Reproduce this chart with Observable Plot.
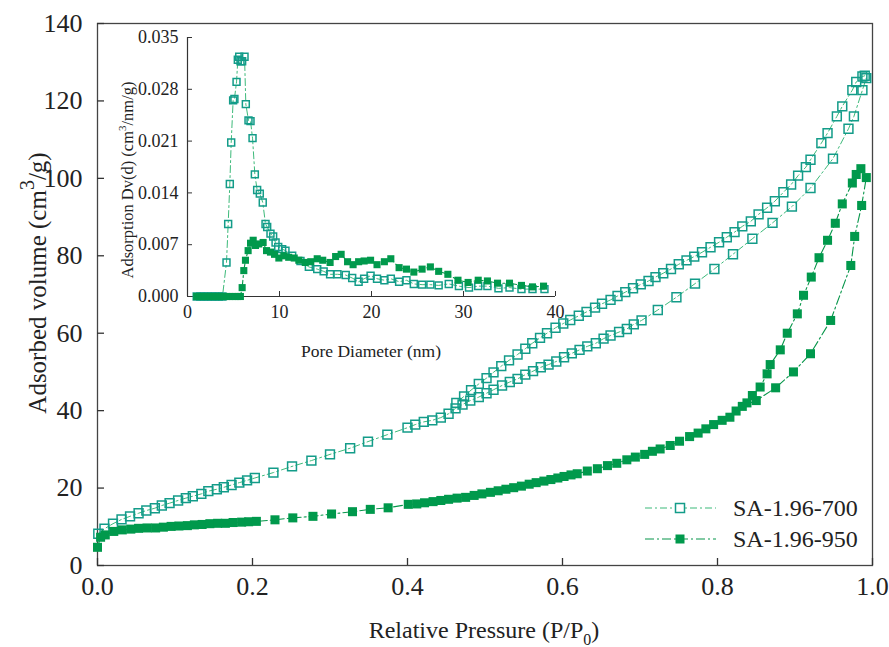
<!DOCTYPE html>
<html><head><meta charset="utf-8">
<script src="https://cdn.jsdelivr.net/npm/d3@7"></script>
<script src="https://cdn.jsdelivr.net/npm/@observablehq/plot@0.6"></script>
<style>
body{margin:0;background:#fff;}
#wrap{position:relative;width:889px;height:647px;overflow:hidden;}
#main{position:absolute;left:0;top:0;}
#inset{position:absolute;left:100px;top:20px;}
</style></head><body><div id="wrap"><div id="main"></div><div id="inset"></div></div>
<script>
// ---------- main isotherm data ----------
const xTicks = [0, 0.2, 0.4, 0.6, 0.8, 1.0];
const yTicks = [0, 20, 40, 60, 80, 100, 120, 140];

const ads700P = [0.001,0.009,0.020,0.031,0.042,0.053,0.063,0.074,0.083,0.093,0.104,0.114,0.123,0.134,0.143,0.154,0.163,0.173,0.183,0.193,0.203,0.227,0.251,0.276,0.300,0.326,0.349,0.374,0.400,0.410,0.421,0.432,0.443,0.453,0.462,0.471,0.481,0.492,0.502,0.511,0.522,0.532,0.542,0.552,0.562,0.572,0.582,0.592,0.602,0.612,0.622,0.632,0.643,0.653,0.662,0.673,0.683,0.692,0.702,0.723,0.747,0.771,0.796,0.820,0.845,0.871,0.896,0.920,0.949,0.969,0.976,0.987,0.992];
const ads700V = [8.2,9.5,10.8,11.9,12.7,13.5,14.2,14.8,15.5,16.1,16.8,17.4,17.9,18.5,19.2,19.7,20.2,20.8,21.4,22.0,22.6,24.0,25.6,27.1,28.7,30.3,32.0,33.8,35.6,36.4,37.1,37.5,38.2,39.2,40.6,41.6,42.6,43.5,44.5,45.4,46.5,47.4,48.2,49.3,50.2,51.2,51.9,52.7,53.8,54.8,55.7,56.6,57.4,58.6,59.4,60.3,61.1,62.3,63.3,66.0,69.3,72.8,76.6,80.4,84.4,88.5,92.7,97.5,105.1,112.8,116.0,122.8,125.9];

const des700P = [0.990,0.987,0.979,0.974,0.961,0.954,0.942,0.934,0.920,0.914,0.904,0.895,0.885,0.874,0.864,0.853,0.843,0.832,0.822,0.812,0.802,0.791,0.780,0.770,0.760,0.750,0.740,0.730,0.720,0.711,0.701,0.691,0.681,0.671,0.662,0.651,0.642,0.631,0.621,0.610,0.601,0.591,0.580,0.571,0.561,0.552,0.542,0.531,0.521,0.511,0.502,0.492,0.482,0.473,0.463];
const des700V = [126.5,126.3,124.9,122.8,118.6,116.0,111.7,109.1,104.8,102.9,100.7,98.4,96.4,94.1,92.4,90.7,88.9,87.6,86.1,84.8,83.5,82.2,80.9,79.8,78.8,77.8,76.6,75.5,74.5,73.5,72.6,71.6,70.6,69.6,68.6,67.6,66.6,65.5,64.5,63.4,62.5,61.4,60.0,58.8,57.4,56.0,54.5,53.0,51.5,49.9,48.4,46.9,45.3,43.7,42.0];

const ads950P = [0.000,0.004,0.010,0.021,0.032,0.043,0.053,0.064,0.075,0.085,0.095,0.105,0.116,0.125,0.135,0.145,0.155,0.165,0.175,0.186,0.195,0.205,0.229,0.252,0.278,0.302,0.329,0.352,0.375,0.401,0.412,0.422,0.433,0.443,0.453,0.464,0.475,0.486,0.496,0.507,0.517,0.527,0.537,0.547,0.557,0.566,0.576,0.585,0.594,0.602,0.611,0.619,0.632,0.645,0.658,0.670,0.683,0.694,0.706,0.716,0.726,0.739,0.751,0.764,0.775,0.785,0.795,0.806,0.816,0.824,0.832,0.850,0.875,0.898,0.920,0.946,0.972,0.977,0.986,0.992];
const ads950V = [4.7,7.3,7.9,8.8,9.2,9.4,9.6,9.7,9.7,9.9,10.1,10.2,10.3,10.5,10.6,10.8,10.9,10.9,11.1,11.2,11.3,11.4,11.8,12.3,12.7,13.3,13.9,14.5,14.9,15.8,15.9,16.2,16.5,16.8,17.1,17.4,17.6,18.1,18.5,18.9,19.3,19.7,20.1,20.5,21.0,21.4,21.8,22.2,22.6,23.0,23.4,23.7,24.4,25.0,25.8,26.4,27.3,28.0,28.7,29.5,30.1,31.0,32.1,33.3,34.2,35.3,36.4,37.5,38.3,39.9,41.1,42.6,45.9,50.0,54.7,63.3,77.5,85.0,93.0,100.2];

const des950P = [0.985,0.979,0.974,0.961,0.952,0.942,0.931,0.921,0.911,0.903,0.890,0.881,0.868,0.864,0.855,0.845,0.838];
const des950V = [102.5,101.0,98.8,93.4,88.4,84.0,79.5,74.5,69.8,65.0,60.0,55.7,51.9,49.5,46.1,43.9,42.0];

// ---------- inset pore size distribution data ----------
const insetXTicks = [0, 10, 20, 30, 40];
const insetYTicks = [0, 0.007, 0.014, 0.021, 0.028, 0.035];

const psd700D = [1.0,1.4,1.8,2.2,2.6,3.0,3.4,3.8,4.24,4.42,4.60,4.75,4.96,5.10,5.33,5.47,5.62,5.76,5.94,6.20,6.34,6.63,6.85,7.07,7.32,7.57,7.86,8.18,8.48,8.66,9.02,9.31,9.57,9.86,10.29,10.65,11.38,12.28,13.19,14.1,14.8,15.5,16.3,17.2,17.9,18.6,19.2,19.9,20.6,21.4,22.1,23.0,23.8,24.6,25.5,26.4,27.3,28.4,29.5,30.6,31.6,32.6,33.8,35.0,36.3,37.5,38.8];
const psd700V = [0,0,0,0,0,0,0,0,0.0046,0.0098,0.0152,0.0208,0.0265,0.0267,0.0290,0.0320,0.0324,0.0318,0.0318,0.0324,0.0260,0.0238,0.0237,0.0214,0.0165,0.0144,0.0139,0.0127,0.0098,0.0094,0.0085,0.0081,0.0073,0.0067,0.0064,0.0062,0.0055,0.0048,0.0040,0.0037,0.0034,0.0030,0.0030,0.0029,0.0025,0.0020,0.0024,0.0028,0.0024,0.0022,0.0024,0.0020,0.0022,0.0017,0.0016,0.0016,0.0015,0.0017,0.0014,0.0012,0.0014,0.0014,0.0011,0.0012,0.0010,0.0010,0.0010];

const psd950D = [1.0,1.3,1.6,1.9,2.2,2.5,2.8,3.1,3.4,3.7,4.0,4.3,4.6,4.9,5.2,5.5,5.75,5.94,6.12,6.30,6.59,6.85,7.14,7.39,7.75,8.22,8.59,9.02,9.46,9.93,10.47,11.0,11.6,12.1,12.8,13.4,14.1,14.7,15.5,16.1,16.7,17.4,18.0,18.6,19.2,19.9,20.6,21.4,22.1,23.0,23.8,24.6,25.5,26.4,27.3,28.3,29.4,30.5,31.6,32.6,33.7,35.0,36.3,37.5,38.7];
const psd950V = [0,0,0,0,0,0,0,0,0,0,0,0,0,0,0,0,0,0.0012,0.0035,0.0049,0.0062,0.0072,0.0076,0.0069,0.0071,0.0073,0.0062,0.0060,0.0057,0.0052,0.0055,0.0053,0.0052,0.0049,0.0046,0.0047,0.0051,0.0049,0.0046,0.0054,0.0057,0.0047,0.0043,0.0047,0.0048,0.0049,0.0043,0.0047,0.0051,0.0039,0.0037,0.0033,0.0037,0.0040,0.0034,0.0030,0.0022,0.0019,0.0022,0.0021,0.0018,0.0018,0.0015,0.0013,0.0014];

const seriesNames = ["SA-1.96-700", "SA-1.96-950"];

// ---------- styles ----------
const FONT = "Liberation Serif, DejaVu Serif, serif";
const C700 = "#139c89", L700 = "#3dba7a";
const C950 = "#00994c", L950 = "#07964a";
const DASH700 = "7,3,2,3", DASH950 = "9,3,2,3";
const rows = (xs, ys) => xs.map((x, i) => ({x, y: ys[i]}));

const openSq = (data, r) => Plot.dot(data, {x: "x", y: "y", symbol: "square", r, stroke: C700, fill: "none", strokeWidth: 1.5});
const fillSq = (data, r) => Plot.dot(data, {x: "x", y: "y", symbol: "square", r, fill: C950, stroke: "none"});
const line700 = (data) => Plot.line(data, {x: "x", y: "y", stroke: L700, strokeWidth: 1, strokeDasharray: DASH700});
const line950 = (data) => Plot.line(data, {x: "x", y: "y", stroke: L950, strokeWidth: 1.1, strokeDasharray: DASH950});

const a700 = rows(ads700P, ads700V), d700 = rows(des700P, des700V);
const a950 = rows(ads950P, ads950V), d950 = rows(des950P, des950V);

const main = Plot.plot({
  width: 889, height: 647,
  marginLeft: 97, marginRight: 17, marginTop: 23, marginBottom: 82,
  style: {fontFamily: FONT, fontSize: "26px", color: "#222", background: "transparent", overflow: "visible"},
  x: {domain: [0, 1]},
  y: {domain: [0, 140]},
  marks: [
    Plot.frame({stroke: "#444", strokeWidth: 1.3}),
    Plot.axisX(xTicks, {tickFormat: d => d.toFixed(1), tickSize: -7, tickPadding: 18, label: null, stroke: "#333", strokeWidth: 1.3}),
    Plot.axisY(yTicks, {tickFormat: d => String(d), tickSize: -7, tickPadding: 22, label: null, stroke: "#333", strokeWidth: 1.3}),
    line700(a700), line700(d700),
    openSq(a700, 5.0), openSq(d700, 5.0),
    line950(a950), line950(d950),
    fillSq(a950, 5.1), fillSq(d950, 5.1)
  ]
});
document.getElementById("main").appendChild(main);

const inset = Plot.plot({
  width: 470, height: 350,
  marginLeft: 87, marginRight: 15, marginTop: 17, marginBottom: 74,
  style: {fontFamily: FONT, fontSize: "18px", color: "#222", background: "transparent", overflow: "visible"},
  x: {domain: [0, 40]},
  y: {domain: [0, 0.035]},
  marks: [
    Plot.ruleX([0], {stroke: "#333", strokeWidth: 1.2}),
    Plot.ruleY([0], {stroke: "#333", strokeWidth: 1.2}),
    Plot.axisX(insetXTicks, {tickSize: -5, tickPadding: 14, label: null, stroke: "#333"}),
    Plot.axisY(insetYTicks, {tickFormat: d => d.toFixed(3), tickSize: -5, tickPadding: 14, label: null, stroke: "#333"}),
    line700(rows(psd700D, psd700V)),
    openSq(rows(psd700D, psd700V), 3.9),
    line950(rows(psd950D, psd950V)),
    fillSq(rows(psd950D, psd950V), 4.0)
  ]
});
document.getElementById("inset").appendChild(inset);

// ---------- axis titles with super/subscripts ----------
const ms = d3.select(main);
const yl = ms.append("text")
  .attr("transform", "translate(46,283) rotate(-90)")
  .attr("text-anchor", "middle")
  .attr("font-family", FONT).attr("font-size", 25).attr("fill", "#222");
yl.append("tspan").text("Adsorbed volume (cm");
yl.append("tspan").attr("dy", -12).attr("font-size", 20).text("3");
yl.append("tspan").attr("dy", 12).text("/g)");

const xl = ms.append("text")
  .attr("x", 484).attr("y", 638)
  .attr("text-anchor", "middle")
  .attr("font-family", FONT).attr("font-size", 24).attr("fill", "#222");
xl.append("tspan").text("Relative Pressure (P/P");
xl.append("tspan").attr("dy", 7).attr("font-size", 16).text("0");
xl.append("tspan").attr("dy", -7).text(")");

// legend
const leg = ms.append("g").attr("font-family", FONT).attr("font-size", 24).attr("fill", "#222").attr("text-anchor", "start");
[[seriesNames[0], 508, "700"], [seriesNames[1], 539, "950"]].forEach(([name, yy, k]) => {
  leg.append("line").attr("x1", 645).attr("x2", 716).attr("y1", yy).attr("y2", yy)
    .attr("stroke", k === "700" ? L700 : L950).attr("stroke-width", 1.1)
    .attr("stroke-dasharray", k === "700" ? DASH700 : DASH950);
  if (k === "700") {
    leg.append("rect").attr("x", 675.5).attr("y", yy - 4.5).attr("width", 9).attr("height", 9)
      .attr("fill", "white").attr("stroke", C700).attr("stroke-width", 1.5);
  } else {
    leg.append("rect").attr("x", 675.5).attr("y", yy - 4.5).attr("width", 9).attr("height", 9)
      .attr("fill", C950);
  }
  leg.append("text").attr("x", 733).attr("y", yy + 8).attr("text-anchor", "start").text(name);
});

const is = d3.select(inset);
const iyl = is.append("text")
  .attr("transform", "translate(33,160) rotate(-90)")
  .attr("text-anchor", "middle")
  .attr("font-family", FONT).attr("font-size", 16.5).attr("fill", "#222");
iyl.append("tspan").text("Adsorption Dv(d) (cm");
iyl.append("tspan").attr("dy", -7).attr("font-size", 11).text("3");
iyl.append("tspan").attr("dy", 7).text("/nm/g)");

is.append("text").attr("x", 271).attr("y", 337).attr("text-anchor", "middle")
  .attr("font-family", FONT).attr("font-size", 17.5).attr("fill", "#222")
  .text("Pore Diameter (nm)");
</script>
</body></html>
